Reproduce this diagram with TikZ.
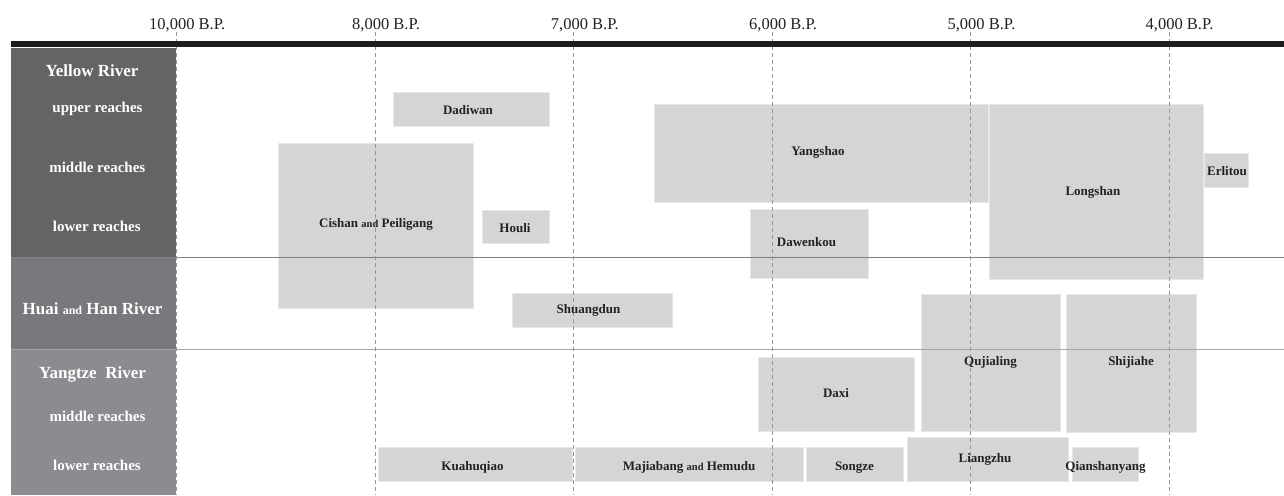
\documentclass[tikz,border=0pt]{standalone}
\usepackage{fontspec}
\setmainfont{Liberation Serif}
\definecolor{panelA}{HTML}{646466}
\definecolor{panelB}{HTML}{78797D}
\definecolor{panelC}{HTML}{8B8C90}
\definecolor{boxgray}{HTML}{D4D5D7}
\definecolor{boxedge}{HTML}{E6E7E8}
\definecolor{dashc}{HTML}{959595}
\definecolor{lineA}{HTML}{808080}
\definecolor{lineB}{HTML}{A8A8A8}
\definecolor{barc}{HTML}{1E1C1D}
\definecolor{labelc}{HTML}{222222}
\begin{document}
\begin{tikzpicture}[x=1pt,y=-1pt,
  panel/.style={inner sep=0pt, anchor=north west, draw=none},
  box/.style={fill=boxgray, draw=boxedge, line width=0.6pt, inner sep=0pt, anchor=north west},
  lbl/.style={font=\fontsize{13}{13}\selectfont\bfseries, anchor=base, inner sep=0pt, text=labelc},
  river/.style={font=\fontsize{17}{17}\selectfont\bfseries, anchor=base, inner sep=0pt, text=white},
  reach/.style={font=\fontsize{15}{15}\selectfont\bfseries, anchor=base, inner sep=0pt, text=white},
  tick/.style={font=\fontsize{16.5}{16.5}\selectfont, anchor=base west, inner sep=0pt, text=labelc},
  dashline/.style={draw=dashc, line width=0.7pt, dash pattern=on 4pt off 3pt},
  hline/.style={line width=1.2pt}
]
\useasboundingbox (0,0) rectangle (1284,495);
\newcommand{\sm}[1]{{\fontsize{10.5}{10.5}\selectfont #1}}
% panels
\node[panel, fill=panelA, minimum width=165pt, minimum height=209pt] (pY) at (11,48) {};
\node[panel, fill=panelB, minimum width=165pt, minimum height=92pt] (pH) at (11,257) {};
\node[panel, fill=panelC, minimum width=165pt, minimum height=146pt] (pZ) at (11,349) {};
% boxes
\node[box, minimum width=156pt, minimum height=34pt] (dadiwan) at (393,92) {};
\node[box, minimum width=195pt, minimum height=165pt] (cishan) at (278,143) {};
\node[box, minimum width=67pt, minimum height=33pt] (houli) at (482,210) {};
\node[box, minimum width=334pt, minimum height=98pt] (yangshao) at (654,104) {};
\node[box, minimum width=214pt, minimum height=175pt] (longshan) at (989,104) {};
\node[box, minimum width=44pt, minimum height=34pt] (erlitou) at (1204,153) {};
\node[box, minimum width=118pt, minimum height=69pt] (dawenkou) at (750,209) {};
\node[box, minimum width=160pt, minimum height=34pt] (shuangdun) at (512,293) {};
\node[box, minimum width=156pt, minimum height=74pt] (daxi) at (758,357) {};
\node[box, minimum width=139pt, minimum height=137pt] (qujialing) at (921,294) {};
\node[box, minimum width=130pt, minimum height=138pt] (shijiahe) at (1066,294) {};
\node[box, minimum width=194pt, minimum height=34pt] (kuahuqiao) at (378,447) {};
\node[box, minimum width=228pt, minimum height=34pt] (majiabang) at (575,447) {};
\node[box, minimum width=97pt, minimum height=34pt] (songze) at (806,447) {};
\node[box, minimum width=161pt, minimum height=44pt] (liangzhu) at (907,437) {};
\node[box, minimum width=66pt, minimum height=34pt] (qianshanyang) at (1072,447) {};
% horizontal dividers
\coordinate (h1p) at (11,257.3); \coordinate (h1a) at (176,257.3); \coordinate (h1b) at (1284,257.3);
\coordinate (h2p) at (11,349.7); \coordinate (h2a) at (176,349.7); \coordinate (h2b) at (1284,349.7);
\draw[line width=0.8pt, draw=panelA!80!white] (h1p) -- (h1a);
\draw[line width=0.8pt, draw=panelC!80!white] (h2p) -- (h2a);
\draw[hline, draw=lineA] (h1a) -- (h1b);
\draw[hline, draw=lineB, line width=1.5pt] (h2a) -- (h2b);
% dashed time lines
\foreach \n/\x in {t10/176, t8/375.3, t7/573.3, t6/772, t5/970.3, t4/1169.3}{
  \coordinate (\n top) at (\x,32);
  \coordinate (\n bot) at (\x,495);
  \draw[dashline] (\n top) -- (\n bot);
}
% top bar
\node[panel, fill=barc, minimum width=1273pt, minimum height=6pt] (bar) at (11,41.2) {};
% tick labels
\node[tick] (l10) at (149,29.5) {10,000 B.P.};
\node[tick] (l8) at (352,29.5) {8,000 B.P.};
\node[tick] (l7) at (550.7,29.5) {7,000 B.P.};
\node[tick] (l6) at (749,29.5) {6,000 B.P.};
\node[tick] (l5) at (947.3,29.5) {5,000 B.P.};
\node[tick] (l4) at (1145.5,29.5) {4,000 B.P.};
% panel labels
\node[river] (yr) at (92,76) {Yellow River};
\node[reach] (yr1) at (97.5,112.5) {upper reaches};
\node[reach] (yr2) at (97.3,172.5) {middle reaches};
\node[reach] (yr3) at (96.8,231.7) {lower reaches};
\node[river] (hr) at (92.5,314) {Huai {\fontsize{12}{12}\selectfont and} Han River};
\node[river] (zr) at (92.5,378) {Yangtze\ \ River};
\node[reach] (zr2) at (97.5,421.7) {middle reaches};
\node[reach] (zr3) at (97,470) {lower reaches};
% box labels
\node[lbl] (tdadiwan) at (468,114.5) {Dadiwan};
\node[lbl] (tcishan) at (376,227) {Cishan \sm{and} Peiligang};
\node[lbl] (thouli) at (515,232.5) {Houli};
\node[lbl] (tyangshao) at (818,155.5) {Yangshao};
\node[lbl] (tlongshan) at (1093,195.5) {Longshan};
\node[lbl] (terlitou) at (1227,175) {Erlitou};
\node[lbl] (tdawenkou) at (806.5,246.7) {Dawenkou};
\node[lbl] (tshuangdun) at (588.5,313.5) {Shuangdun};
\node[lbl] (tdaxi) at (836,397) {Daxi};
\node[lbl] (tqujialing) at (990.5,365) {Qujialing};
\node[lbl] (tshijiahe) at (1131,365) {Shijiahe};
\node[lbl] (tkuahuqiao) at (472.5,470) {Kuahuqiao};
\node[lbl] (tmajiabang) at (689,470) {Majiabang \sm{and} Hemudu};
\node[lbl] (tsongze) at (854.5,470) {Songze};
\node[lbl] (tliangzhu) at (985,462) {Liangzhu};
\node[lbl] (tqianshanyang) at (1105.5,470) {Qianshanyang};
\end{tikzpicture}
\end{document}
